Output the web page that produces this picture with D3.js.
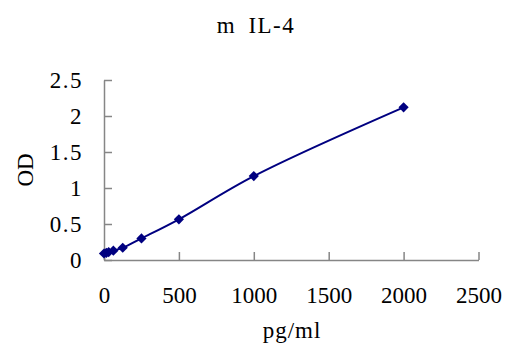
<!DOCTYPE html>
<html><head><meta charset="utf-8">
<script src="https://cdn.jsdelivr.net/npm/d3@7"></script>
<style>
html,body{margin:0;padding:0;background:#fff;}
</style></head>
<body><div id="chart"></div>
<script>
const concentrations = [0, 15.6, 31.25, 62.5, 125, 250, 500, 1000, 2000];
const odValues = [0.09, 0.10, 0.11, 0.13, 0.17, 0.30, 0.565, 1.165, 2.12];
const xTicks = [0, 500, 1000, 1500, 2000, 2500];
const yTicks = [0, 0.5, 1, 1.5, 2, 2.5];
const yTickLabels = ["0", "0.5", "1", "1.5", "2", "2.5"];
const title = "m IL-4";
const xTitle = "pg/ml";
const yTitle = "OD";

const W = 516, H = 356;
const FONT = "'Liberation Serif', 'Times New Roman', serif";
const svg = d3.select("#chart").append("svg").attr("width", W).attr("height", H);

const x = d3.scaleLinear().domain([0, 2500]).range([104, 478.5]);
const y = d3.scaleLinear().domain([0, 2.5]).range([260, 80]);

const axisColor = "#868686";
const fs = 23;

const xAxis = svg.append("g").attr("transform", `translate(0,${y(0)})`)
  .call(d3.axisBottom(x).tickValues(xTicks).tickFormat(d3.format("d")).tickSizeInner(-8).tickSizeOuter(0).tickPadding(27));
const yAxis = svg.append("g").attr("transform", `translate(${x(0)},0)`)
  .call(d3.axisLeft(y).tickValues(yTicks).tickFormat((d,i)=>yTickLabels[i]).tickSizeInner(-8).tickSizeOuter(0).tickPadding(21));

[xAxis, yAxis].forEach(g => {
  g.select(".domain").attr("stroke", axisColor).attr("stroke-width", 1.5);
  g.selectAll(".tick line").attr("stroke", axisColor).attr("stroke-width", 1.5);
  g.selectAll(".tick text").style("font-size", fs + "px").style("font-family", FONT).attr("fill", "#000");
});
yAxis.selectAll(".tick text").style("letter-spacing", "1.5px");

const pts = concentrations.map((c, i) => [c, odValues[i]]);
const line = d3.line().x(d => x(d[0])).y(d => y(d[1])).curve(d3.curveCatmullRom.alpha(0.5));
svg.append("path").datum(pts).attr("d", line).attr("fill", "none")
  .attr("stroke", "#000080").attr("stroke-width", 2);

const diamond = d3.symbol().type(d3.symbolSquare).size(52);
svg.selectAll(".pt").data(pts).enter().append("path")
  .attr("d", diamond)
  .attr("transform", d => `translate(${x(d[0])},${y(d[1])}) rotate(45)`)
  .attr("fill", "#000080");

function label(t, tr, ws, ls) {
  svg.append("text").attr("transform", tr).attr("text-anchor", "middle")
    .style("font-family", FONT).style("font-size", fs + "px")
    .style("word-spacing", ws + "px").style("letter-spacing", ls + "px").text(t);
}
label(title, "translate(256,33)", 5, 1.5);
label(xTitle, "translate(292,338)", 0, 1);
label(yTitle, "translate(33,170) rotate(-90)", 0, 0);
</script></body></html>
